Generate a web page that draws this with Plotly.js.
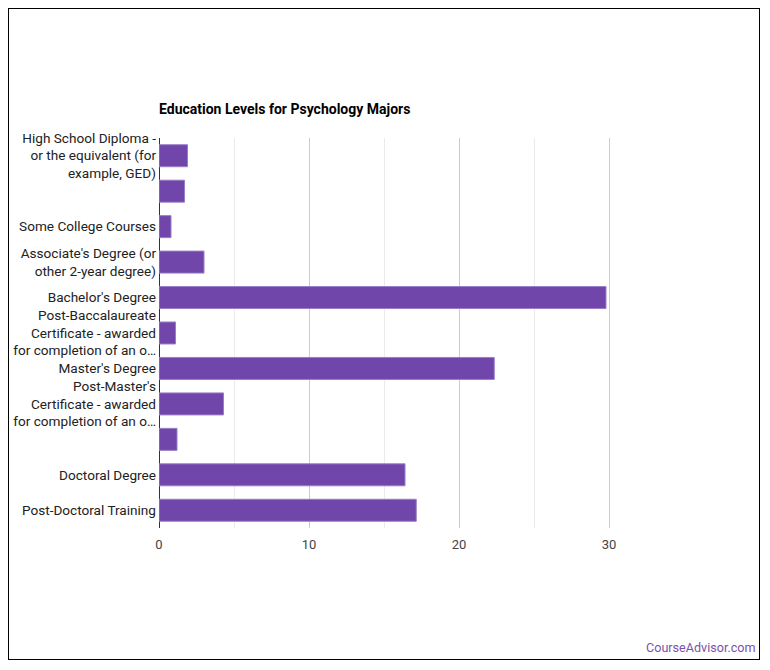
<!DOCTYPE html>
<html>
<head>
<meta charset="utf-8">
<script src="https://cdn.plot.ly/plotly-3.0.1.min.js"></script>
<style>
  html, body { margin: 0; padding: 0; background: #fff; }
  #frame { position: absolute; left: 8px; top: 8px; width: 750px; height: 650px; border: 1px solid #000; }
  #chart { width: 750px; height: 650px; }
</style>
</head>
<body>
<div id="frame"><div id="chart"></div></div>
<script>
const categories = [
  "High School Diploma -<br>or the equivalent (for<br>example, GED)",
  "",
  "Some College Courses",
  "Associate's Degree (or<br>other 2-year degree)",
  "Bachelor's Degree",
  "Post-Baccalaureate<br>Certificate - awarded<br>for completion of an o…",
  "Master's Degree",
  "Post-Master's<br>Certificate - awarded<br>for completion of an o…",
  "",
  "Doctoral Degree",
  "Post-Doctoral Training"
];
const values = [1.9, 1.7, 0.8, 3.0, 29.8, 1.1, 22.35, 4.3, 1.2, 16.4, 17.15];
const xTickVals = [0, 10, 20, 30];
const chartTitle = "Education Levels for Psychology Majors";
const watermark = "CourseAdvisor.com";

const positions = categories.map((c, i) => i);

const trace = {
  type: 'bar',
  orientation: 'h',
  x: values,
  y: positions,
  marker: { color: '#7046AA', line: { color: '#9a7cc8', width: 1 } },
  hoverinfo: 'x'
};

const layout = {
  width: 750,
  height: 650,
  margin: { l: 150, r: 105, t: 129, b: 131 },
  paper_bgcolor: '#fff',
  plot_bgcolor: '#fff',
  font: { family: 'Roboto, Arial, sans-serif', size: 14, color: '#222' },
  showlegend: false,
  bargap: 0.38,
  title: {
    text: '<b>' + chartTitle + '</b>',
    font: { family: 'Roboto, Arial, sans-serif', size: 14, color: '#000' },
    x: 0, xref: 'paper', xanchor: 'left',
    y: 1 - 100 / 650, yref: 'container', yanchor: 'middle'
  },
  xaxis: {
    range: [0, 33],
    tickvals: xTickVals,
    ticktext: xTickVals.map(String),
    tickfont: { size: 13, color: '#444' },
    ticklabelstandoff: 7,
    showgrid: true,
    gridcolor: '#cccccc',
    gridwidth: 1,
    minor: { dtick: 5, showgrid: true, gridcolor: '#ebebeb', gridwidth: 1 },
    zeroline: true,
    zerolinecolor: '#333',
    zerolinewidth: 1,
    showline: false,
    ticks: '',
    fixedrange: true
  },
  yaxis: {
    range: [10.5, -0.5],
    tickvals: positions,
    ticktext: categories,
    tickfont: { size: 13.6, color: '#222' },
    showgrid: false,
    zeroline: false,
    showline: false,
    ticks: '',
    ticklabelstandoff: 2,
    fixedrange: true
  },
  annotations: [{
    text: watermark,
    xref: 'paper', yref: 'paper',
    x: (749 - 150) / 495, y: (519 - 638) / 390,
    xanchor: 'right', yanchor: 'middle',
    showarrow: false,
    font: { family: 'Roboto, Arial, sans-serif', size: 12.6, color: '#7b52ab' }
  }]
};

Plotly.newPlot('chart', [trace], layout, { displayModeBar: false, staticPlot: true });
</script>
</body>
</html>
